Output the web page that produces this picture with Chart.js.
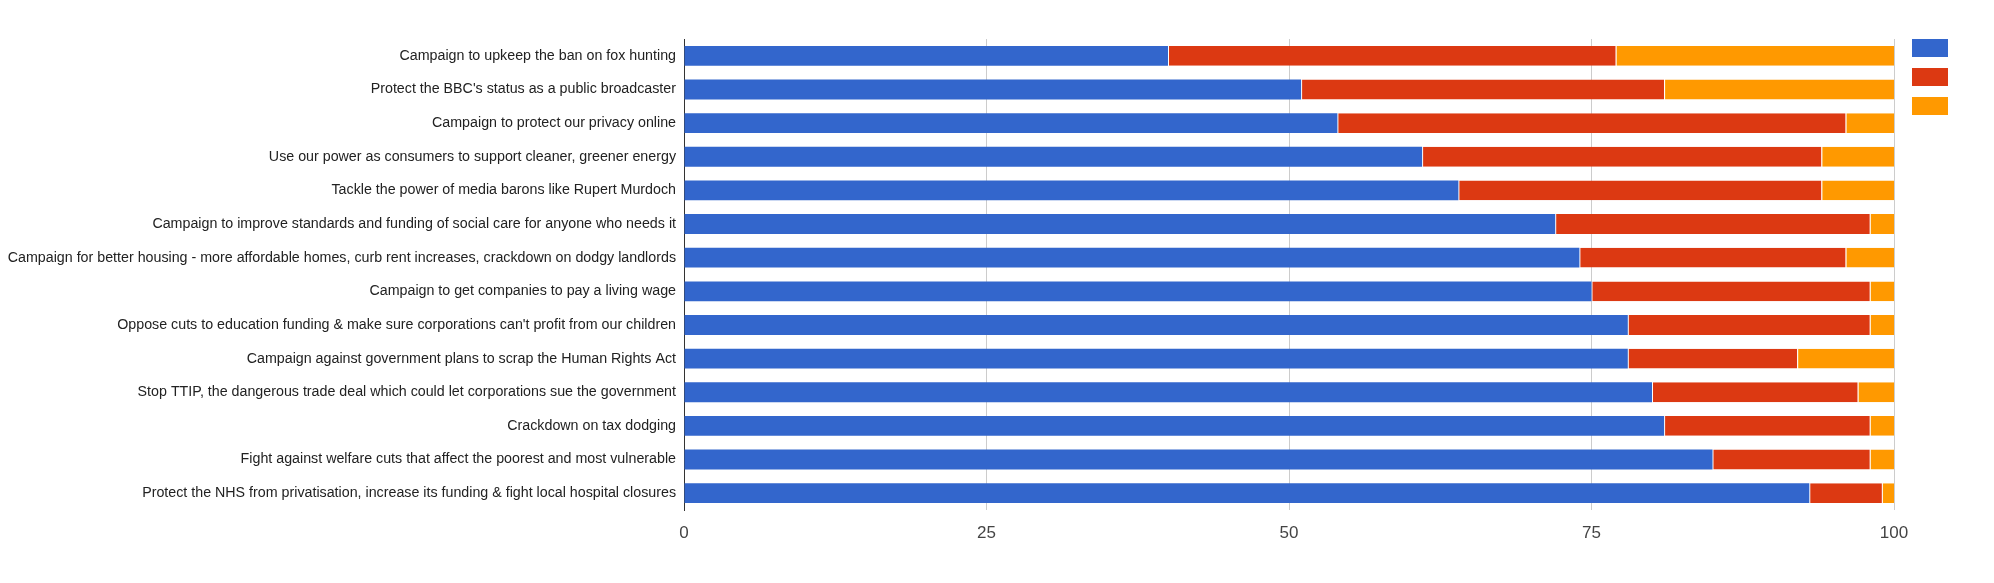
<!DOCTYPE html>
<html>
<head>
<meta charset="utf-8">
<script src="https://cdn.jsdelivr.net/npm/chart.js@4.4.1/dist/chart.umd.min.js"></script>
<style>
  html, body { margin: 0; padding: 0; background: #fff; }
  #wrap { width: 1994px; height: 583px; }
</style>
</head>
<body>
<div id="wrap"><canvas id="barChart" width="1994" height="583"></canvas></div>
<script>
// categories (top to bottom)
var campaigns = [
  "Campaign to upkeep the ban on fox hunting",
  "Protect the BBC's status as a public broadcaster",
  "Campaign to protect our privacy online",
  "Use our power as consumers to support cleaner, greener energy",
  "Tackle the power of media barons like Rupert Murdoch",
  "Campaign to improve standards and funding of social care for anyone who needs it",
  "Campaign for better housing - more affordable homes, curb rent increases, crackdown on dodgy landlords",
  "Campaign to get companies to pay a living wage",
  "Oppose cuts to education funding & make sure corporations can't profit from our children",
  "Campaign against government plans to scrap the Human Rights Act",
  "Stop TTIP, the dangerous trade deal which could let corporations sue the government",
  "Crackdown on tax dodging",
  "Fight against welfare cuts that affect the poorest and most vulnerable",
  "Protect the NHS from privatisation, increase its funding & fight local hospital closures"
];

// series values
var blueValues   = [40, 51, 54, 61, 64, 72, 74, 75, 78, 78, 80, 81, 85, 93];
var redValues    = [37, 30, 42, 33, 30, 26, 22, 23, 20, 14, 17, 17, 13, 6];
var orangeValues = [23, 19, 4, 6, 6, 2, 4, 2, 2, 8, 3, 2, 2, 1];

// x axis ticks
var xTicks = [0, 25, 50, 75, 100];

/*---------------------
 ----- LEGEND (boxes only) -----
 ---------------------*/
var boxLegend = {
  id: 'boxLegend',
  afterDraw: function (chart) {
    var ctx = chart.ctx;
    ctx.save();
    chart.data.datasets.forEach(function (ds, i) {
      ctx.fillStyle = ds.backgroundColor;
      ctx.fillRect(1912, 39 + i * 29, 36, 18);
    });
    ctx.restore();
  }
};

var barChartData = {
  labels: campaigns,
  datasets: [{
    label: '',
    data: blueValues,
    backgroundColor: "#3366cc",
    borderColor: "#ffffff",
    borderWidth: 0
  }, {
    label: '',
    data: redValues,
    backgroundColor: "#dc3912",
    borderColor: "#ffffff",
    borderWidth: { left: 1, right: 0, top: 0, bottom: 0 },
    borderSkipped: false
  }, {
    label: '',
    data: orangeValues,
    backgroundColor: "#ff9900",
    borderColor: "#ffffff",
    borderWidth: { left: 1, right: 0, top: 0, bottom: 0 },
    borderSkipped: false
  }]
};

var config = {
  type: 'bar',
  data: barChartData,
  plugins: [boxLegend],
  options: {
    indexAxis: 'y',
    responsive: false,
    animation: false,
    layout: { padding: { top: 39, right: 100, left: 0, bottom: 0 } },
    datasets: { bar: { categoryPercentage: 1, barPercentage: 0.59 } },
    plugins: {
      legend: { display: false },
      tooltip: { enabled: false }
    },
    scales: {
      x: {
        stacked: true,
        min: 0,
        max: 100,
        afterBuildTicks: function (scale) {
          scale.ticks = xTicks.map(function (v) { return { value: v }; });
        },
        afterFit: function (scale) { scale.height = 73; },
        grid: { color: "#cccccc", drawTicks: false, lineWidth: 1 },
        border: { display: false },
        ticks: {
          padding: 13,
          color: "#444444",
          font: { family: "Arial, 'Liberation Sans'", size: 17 }
        }
      },
      y: {
        stacked: true,
        afterFit: function (scale) { scale.width = 684; },
        grid: { display: false, drawTicks: false },
        border: { display: true, color: "#333333", width: 1 },
        ticks: {
          padding: 8,
          color: "#222222",
          autoSkip: false,
          font: { family: "Arial, 'Liberation Sans'", size: 14.25 }
        }
      }
    }
  }
};

var barChartCanvas = document.getElementById("barChart").getContext("2d");
var barChart = new Chart(barChartCanvas, config);
</script>
</body>
</html>
